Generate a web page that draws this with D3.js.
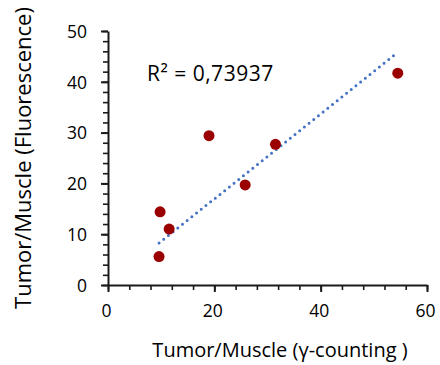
<!DOCTYPE html>
<html>
<head>
<meta charset="utf-8">
<script src="https://cdn.jsdelivr.net/npm/d3@7"></script>
<style>
  html, body { margin: 0; padding: 0; background: #fff; }
  svg { display: block; font-family: "Open Sans", "Noto Sans", sans-serif; }
</style>
</head>
<body>
<svg id="chart" width="440" height="365"></svg>
<script>
// Data
const gammaCounting = [19.0, 9.8, 11.5, 9.6, 25.8, 31.5, 54.5];
const fluorescence  = [29.4, 14.4, 11.0, 5.6, 19.7, 27.7, 41.7];
const trendSlope = 0.836;
const trendIntercept = 0.23;
const rSquaredLabel = "R\u00B2 = 0,73937";
const xTicks = [0, 20, 40, 60];
const yTicks = [0, 10, 20, 30, 40, 50];
const xMinorTicks = d3.range(0, 61, 4);
const yMinorTicks = d3.range(0, 51, 2);
const xTitle = "Tumor/Muscle (\u03B3-counting )";
const yTitle = "Tumor/Muscle (Fluorescence)";

const FONT = "'Open Sans', 'Noto Sans', sans-serif";
const svg = d3.select("#chart");
const x = d3.scaleLinear().domain([0, 60]).range([108, 427]);
const y = d3.scaleLinear().domain([0, 50]).range([285, 31]);

const axisColor = "#1a1a1a";

// minor ticks
svg.append("g").attr("transform", `translate(0,${y(0)})`)
  .call(d3.axisBottom(x).tickValues(xMinorTicks).tickSize(5).tickFormat(""))
  .call(g => g.select(".domain").remove())
  .call(g => g.selectAll("line").attr("stroke", axisColor).attr("stroke-width", 1.6));
svg.append("g").attr("transform", `translate(${x(0)},0)`)
  .call(d3.axisLeft(y).tickValues(yMinorTicks).tickSize(5).tickFormat(""))
  .call(g => g.select(".domain").remove())
  .call(g => g.selectAll("line").attr("stroke", axisColor).attr("stroke-width", 1.6));

// major axes
svg.append("g").attr("transform", `translate(0,${y(0)})`)
  .call(d3.axisBottom(x).tickValues(xTicks).tickSize(7).tickSizeOuter(0).tickPadding(13))
  .call(g => g.select(".domain").attr("stroke", axisColor).attr("stroke-width", 2))
  .call(g => g.selectAll("line").attr("stroke", axisColor).attr("stroke-width", 2))
  .call(g => g.selectAll("text").attr("font-size", 17.5).attr("fill", "#000")
      .attr("font-family", FONT).attr("dx", -2));
svg.append("g").attr("transform", `translate(${x(0)},0)`)
  .call(d3.axisLeft(y).tickValues(yTicks).tickSize(7).tickSizeOuter(0).tickPadding(14))
  .call(g => g.select(".domain").attr("stroke", axisColor).attr("stroke-width", 2))
  .call(g => g.selectAll("line").attr("stroke", axisColor).attr("stroke-width", 2))
  .call(g => g.selectAll("text").attr("font-size", 17.5).attr("fill", "#000")
      .attr("font-family", FONT).attr("dy", "0.36em"));

// trendline
const xMin = d3.min(gammaCounting), xMax = d3.max(gammaCounting);
const trend = [xMin, xMax].map(v => [v, trendIntercept + trendSlope * v]);
svg.append("path")
  .datum(trend)
  .attr("d", d3.line().x(d => x(d[0])).y(d => y(d[1])))
  .attr("fill", "none")
  .attr("stroke", "#4472C4")
  .attr("stroke-width", 3)
  .attr("stroke-linecap", "round")
  .attr("stroke-dasharray", "0 6");

// points
svg.append("g").selectAll("circle")
  .data(gammaCounting.map((v, i) => [v, fluorescence[i]]))
  .join("circle")
  .attr("cx", d => x(d[0]))
  .attr("cy", d => y(d[1]))
  .attr("r", 5.5)
  .attr("fill", "#9b0000");

// R² label
svg.append("text")
  .attr("x", 147).attr("y", 81)
  .attr("font-size", 21)
  .attr("letter-spacing", 0.5)
  .attr("fill", "#000")
  .text(rSquaredLabel);

// axis titles
svg.append("text")
  .attr("x", 280).attr("y", 357)
  .attr("text-anchor", "middle")
  .attr("font-size", 20)
  .attr("fill", "#000")
  .text(xTitle);
svg.append("text")
  .attr("transform", `translate(31,158) rotate(-90)`)
  .attr("text-anchor", "middle")
  .attr("font-size", 22)
  .attr("fill", "#000")
  .text(yTitle);
</script>
</body>
</html>
